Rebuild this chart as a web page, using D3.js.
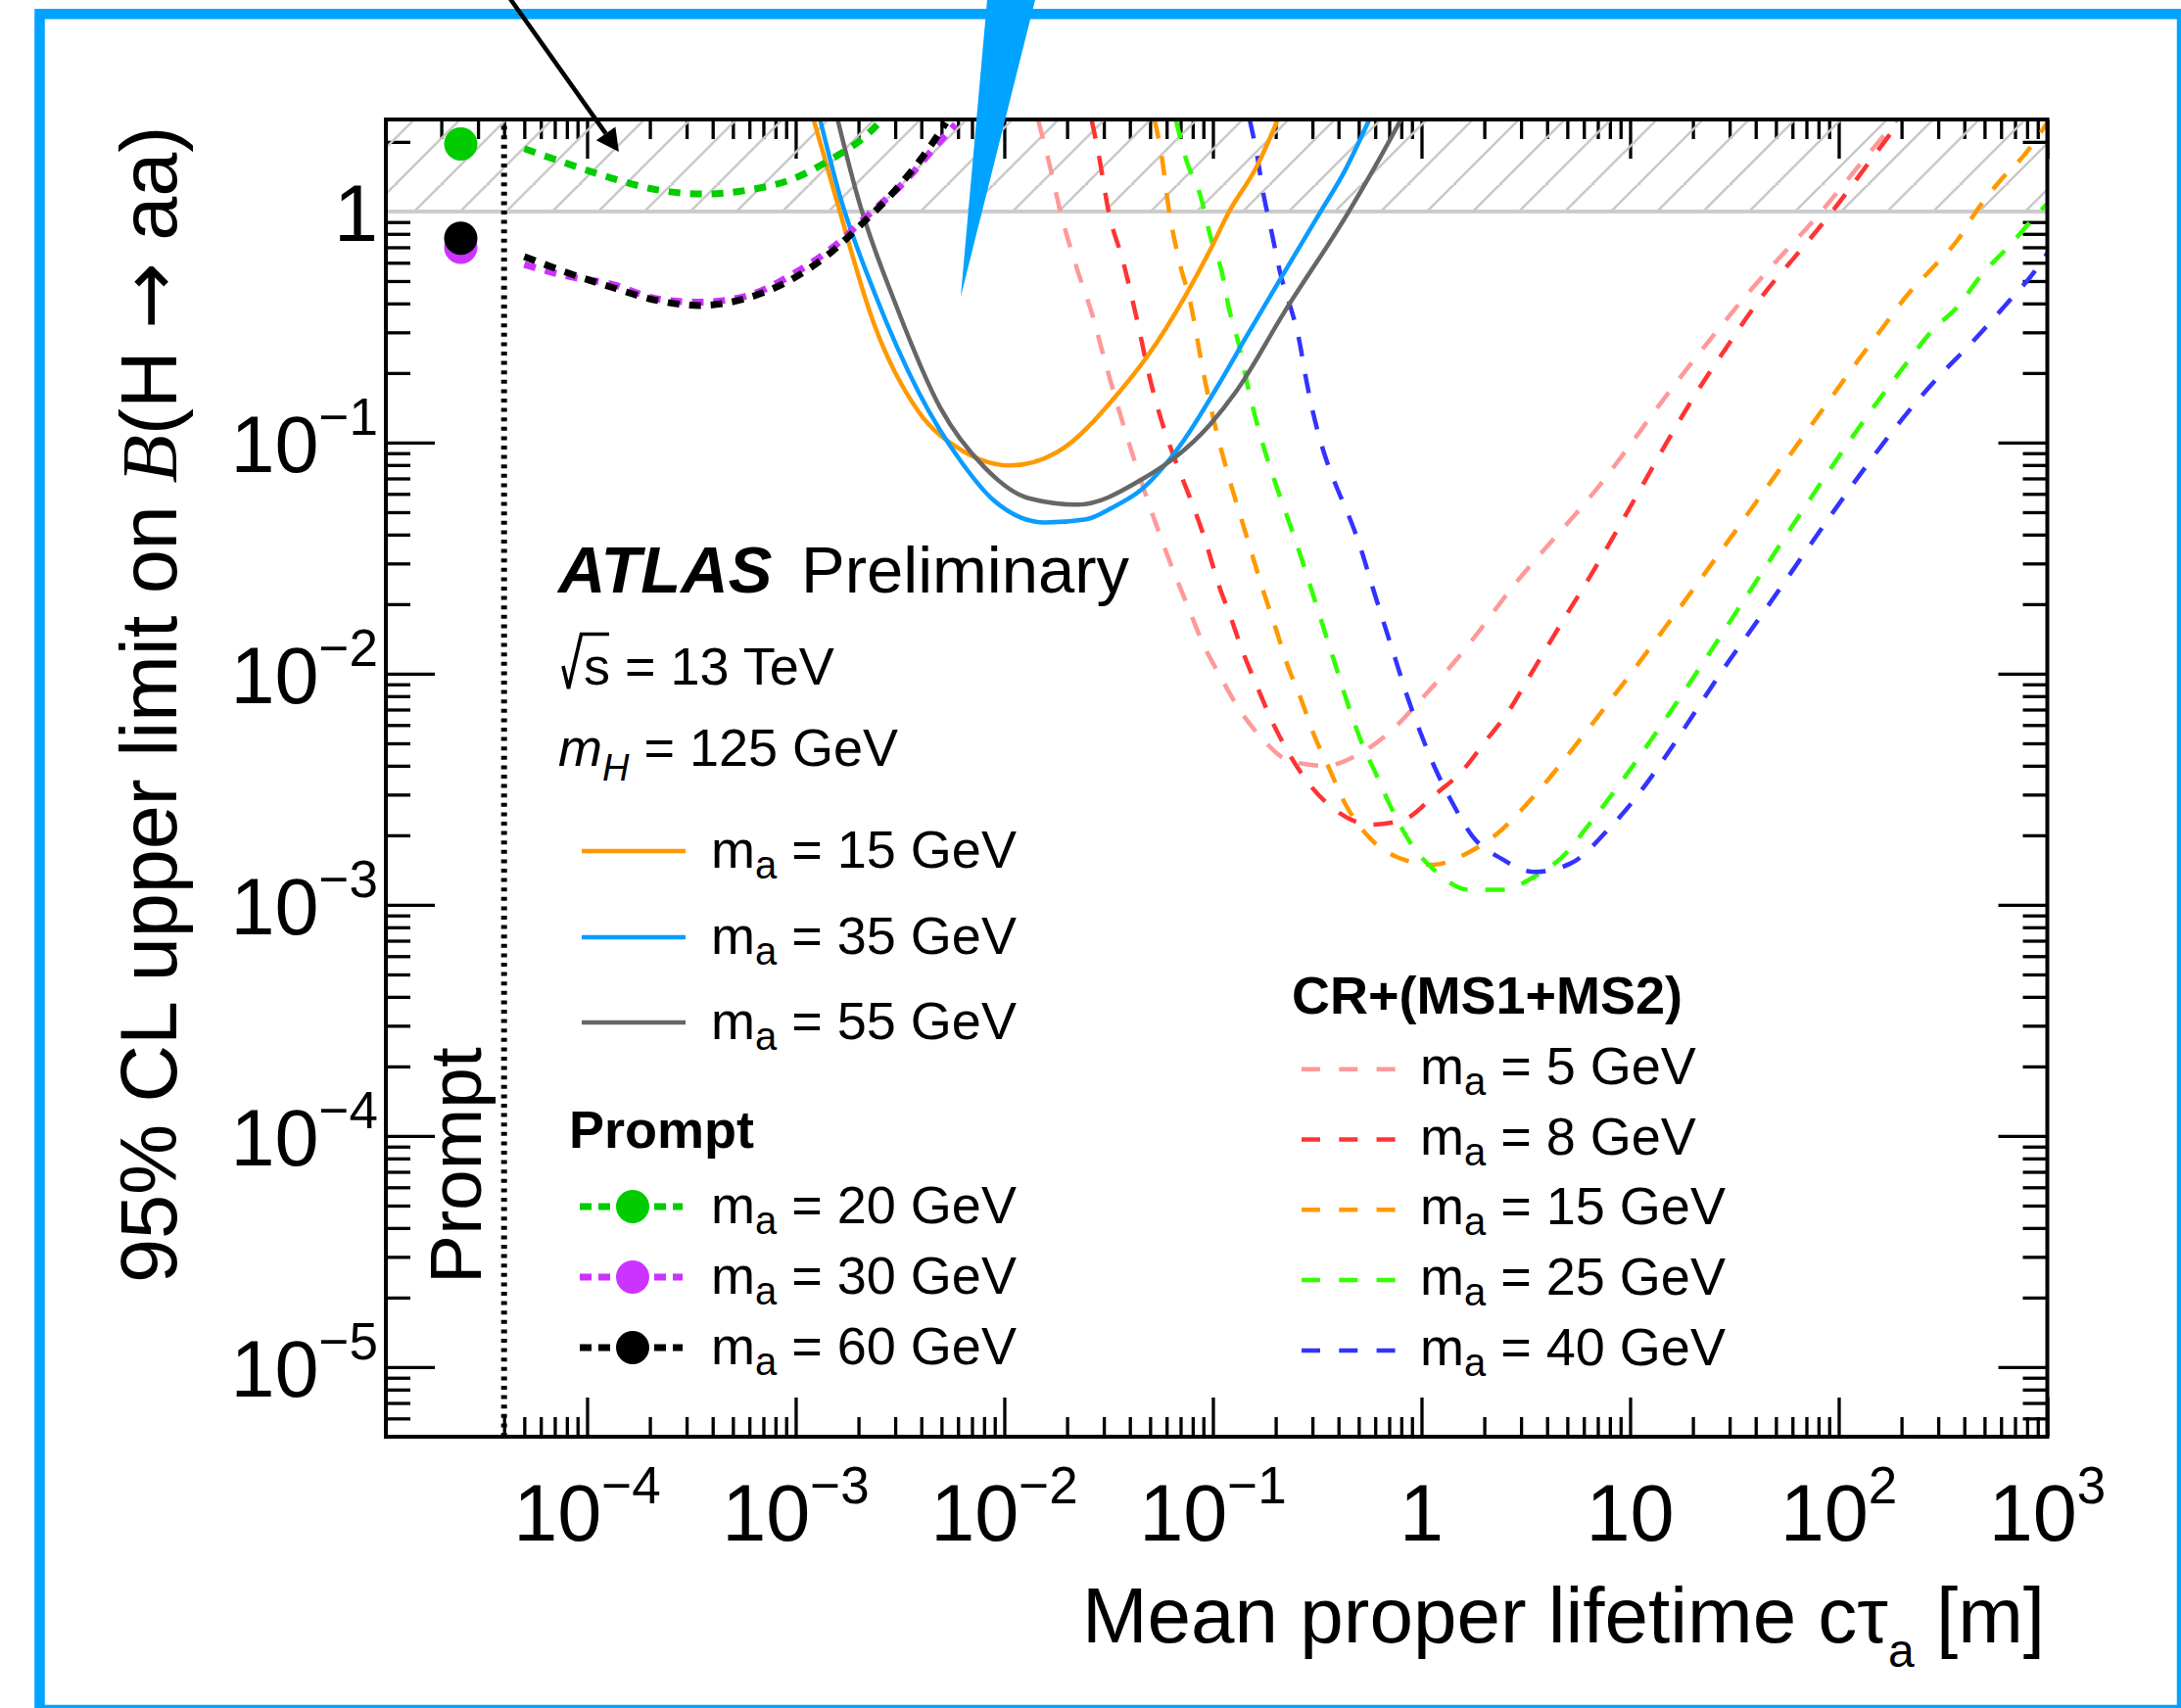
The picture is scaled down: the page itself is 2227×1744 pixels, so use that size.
<!DOCTYPE html>
<html>
<head>
<meta charset="utf-8">
<title>Upper limits on B(H→aa) versus mean proper lifetime</title>
<script src="https://cdn.jsdelivr.net/npm/d3@7/dist/d3.min.js"></script>
<style>
  html, body { margin: 0; padding: 0; background: #ffffff; }
  svg { display: block; }
  text { white-space: pre; }
</style>
</head>
<body>
<svg id="chart" width="2227" height="1744"></svg>
<script>
// ---------------- tick labels ----------------
const xMajorTicks = [1e-4, 1e-3, 1e-2, 1e-1, 1, 10, 100, 1000];
const xTickBase   = ["10", "10", "10", "10", "1", "10", "10", "10"];
const xTickExp    = ["\u22124", "\u22123", "\u22122", "\u22121", "", "", "2", "3"];
const yMajorTicks = [1, 1e-1, 1e-2, 1e-3, 1e-4, 1e-5];
const yTickBase   = ["1", "10", "10", "10", "10", "10"];
const yTickExp    = ["", "\u22121", "\u22122", "\u22123", "\u22124", "\u22125"];

// ---------------- prompt search ----------------
const promptTau  = 2.48e-5;   // where the prompt results are placed
const promptEdge = 4e-5;      // start of the displaced-lifetime axis
const promptMass  = [20, 30, 60];
const promptPoint = [1.96, 0.70, 0.766];

const prompt20Tau = [5.0e-5, 8.05e-5, 1.32e-4, 2.18e-4, 3.57e-4, 5.87e-4, 9.44e-4, 1.46e-3, 2.21e-3, 2.60e-3];
const prompt20Lim = [1.87, 1.61, 1.39, 1.24, 1.19, 1.236, 1.37, 1.67, 2.16, 2.5];
const prompt30Tau = [5.0e-5, 8.05e-5, 1.32e-4, 2.18e-4, 3.43e-4, 5.87e-4, 9.64e-4, 1.52e-3, 2.21e-3, 3.34e-3, 4.65e-3, 5.83e-3];
const prompt30Lim = [0.589, 0.525, 0.484, 0.418, 0.405, 0.432, 0.534, 0.704, 0.959, 1.35, 1.90, 2.38];
const prompt60Tau = [5.0e-5, 8.05e-5, 1.32e-4, 2.18e-4, 3.43e-4, 5.63e-4, 9.25e-4, 1.46e-3, 2.115e-3, 3.07e-3, 4.28e-3, 5.26e-3];
const prompt60Lim = [0.638, 0.543, 0.469, 0.4115, 0.392, 0.418, 0.500, 0.66, 0.898, 1.264, 1.84, 2.42];

// ---------------- solid-line search ----------------
const solidMass = [15, 35, 55];
const solid15Tau = [1.22e-3, 1.55e-3, 2.40e-3, 3.88e-3, 6.30e-3, 1.07e-2, 1.79e-2, 3.56e-2, 4.86e-2, 7.46e-2, 9.79e-2, 0.119, 0.162, 0.205];
const solid15Lim = [2.49, 1.166, 0.3175, 0.1362, 0.0922, 0.0796, 0.0908, 0.1656, 0.2368, 0.439, 0.693, 0.99, 1.56, 2.5];
const solid35Tau = [1.31e-3, 1.63e-3, 2.40e-3, 3.88e-3, 6.30e-3, 8.83e-3, 1.57e-2, 2.47e-2, 3.30e-2, 4.52e-2, 7.11e-2, 0.1061, 0.1452, 0.213, 0.3266, 0.429, 0.562];
const solid35Lim = [2.49, 1.166, 0.439, 0.1656, 0.0812, 0.0566, 0.0451, 0.0466, 0.0524, 0.0624, 0.0997, 0.1773, 0.2888, 0.519, 0.99, 1.50, 2.5];
const solid55Tau = [1.59e-3, 1.976e-3, 3.05e-3, 4.95e-3, 8.01e-3, 1.297e-2, 2.25e-2, 4.50e-2, 9.71e-2, 0.1287, 0.2213, 0.446, 0.586, 0.798];
const solid55Lim = [2.49, 1.166, 0.386, 0.1407, 0.0784, 0.0576, 0.0539, 0.0688, 0.12, 0.1656, 0.37, 0.99, 1.51, 2.5];

// ---------------- CR+(MS1+MS2) ----------------
const crMass = [5, 8, 15, 25, 40];
const cr5Tau = [1.452e-2, 1.643e-2, 1.862e-2, 2.237e-2, 2.633e-2, 3.095e-2, 6.48e-2, 7.62e-2, 8.95e-2, 0.1093, 0.1332, 0.1713, 0.2328, 0.346, 0.514, 0.724, 0.984, 1.63, 2.75, 7.11, 16.5, 38.8, 84.5, 135, 191];
const cr5Lim = [2.49, 1.613, 0.99, 0.561, 0.3614, 0.2113, 0.0277, 0.01936, 0.01353, 0.00962, 0.00706, 0.00527, 0.0042, 0.0040, 0.00455, 0.00572, 0.00766, 0.01289, 0.0239, 0.065, 0.18, 0.469, 1.024, 1.72, 2.5];
const cr8Tau = [2.62e-2, 2.83e-2, 3.17e-2, 3.71e-2, 4.33e-2, 4.87e-2, 9.45e-2, 0.1053, 0.1217, 0.138, 0.1623, 0.1909, 0.2328, 0.289, 0.3855, 0.573, 0.8215, 1.179, 1.571, 2.024, 2.603, 3.232, 4.011, 4.98, 5.97, 23.5, 28.5, 43.7, 62.0, 95.1, 146, 199];
const cr8Lim = [2.5, 1.778, 0.99, 0.608, 0.3386, 0.2079, 0.0348, 0.0251, 0.01756, 0.01269, 0.00887, 0.0063, 0.00448, 0.00334, 0.002576, 0.002226, 0.002337, 0.003033, 0.003805, 0.0051, 0.00684, 0.00947, 0.0131, 0.01813, 0.0236, 0.195, 0.2527, 0.439, 0.64, 1.024, 1.72, 2.5];
const cr15Tau = [5.25e-2, 5.69e-2, 6.15e-2, 6.90e-2, 7.76e-2, 9.06e-2, 0.1511, 0.1745, 0.2014, 0.2287, 0.2641, 0.3052, 0.359, 0.4296, 0.553, 0.765, 1.136, 1.689, 2.336, 3.119, 4.011, 5.354, 98.8, 124.8, 163.9, 215, 282, 376, 458, 600, 773, 1000];
const cr15Lim = [2.5, 1.72, 1.024, 0.608, 0.4115, 0.195, 0.0348, 0.0228, 0.01542, 0.01078, 0.00779, 0.00544, 0.003935, 0.00275, 0.001987, 0.001608, 0.001492, 0.001689, 0.002052, 0.002663, 0.003452, 0.004783, 0.171, 0.229, 0.3175, 0.439, 0.570, 0.764, 1.007, 1.372, 1.75, 2.42];
const cr25Tau = [6.64e-2, 7.46e-2, 8.72e-2, 9.79e-2, 0.1101, 0.119, 0.1338, 0.1444, 0.269, 0.3052, 0.346, 0.3926, 0.4455, 0.514, 0.605, 0.7112, 0.883, 1.179, 1.689, 2.421, 3.474, 4.98, 6.18, 206.9, 282, 370, 486, 663, 942, 1000];
const cr25Lim = [2.5, 1.667, 1.166, 0.764, 0.5515, 0.386, 0.261, 0.1886, 0.03052, 0.02135, 0.01492, 0.01044, 0.0073, 0.0051, 0.003686, 0.002663, 0.001862, 0.001389, 0.001162, 0.001162, 0.001323, 0.001689, 0.002156, 0.215, 0.307, 0.386, 0.534, 0.716, 1.024, 1.08];
const cr40Tau = [0.150, 0.1623, 0.1754, 0.1897, 0.213, 0.2304, 0.2589, 0.2796, 0.5238, 0.584, 0.6617, 0.751, 0.852, 0.984, 1.157, 1.41, 1.751, 2.421, 3.474, 5.16, 8.33, 33.2, 305, 433, 638, 871, 1000];
const cr40Lim = [2.5, 1.778, 1.166, 0.842, 0.517, 0.4115, 0.2786, 0.1886, 0.03256, 0.02353, 0.01645, 0.0115, 0.008043, 0.005623, 0.003935, 0.00275, 0.001987, 0.001582, 0.001389, 0.001507, 0.002245, 0.01305, 0.195, 0.27, 0.398, 0.5515, 0.66];

// ---------------- styles ----------------
const solidColors  = ["#ff9900", "#0a9cff", "#666666"];
const promptColors = ["#00cc00", "#cc33ff", "#000000"];
const crColors     = ["#ff9999", "#ff3333", "#ff9900", "#33ff00", "#3333ff"];
const frameBlue = "#00a3ff";
const SANS  = '"Liberation Sans", Arial, Helvetica, sans-serif';
const SERIF = '"Liberation Serif", "DejaVu Serif", serif';

// ---------------- layout ----------------
const W = 2227, H = 1744;
const plot = { left: 394, right: 2090.5, top: 122, bottom: 1467 };
const svg = d3.select("#chart").attr("width", W).attr("height", H)
  .style("font-family", SANS);

const x = d3.scaleLog().domain([1.085e-5, 1e3]).range([plot.left, plot.right]);
const y = d3.scaleLog().domain([5e-6, 2.5]).range([plot.bottom, plot.top]);

const defs = svg.append("defs");
defs.append("clipPath").attr("id", "plotClip")
  .append("rect")
  .attr("x", plot.left).attr("y", plot.top)
  .attr("width", plot.right - plot.left).attr("height", plot.bottom - plot.top);

// diagonal hatch for the excluded region B > 1
const hatchStep = 47;
const hatch = defs.append("pattern").attr("id", "hatch")
  .attr("patternUnits", "userSpaceOnUse")
  .attr("width", hatchStep).attr("height", hatchStep)
  .attr("x", (470 + y(1)) % hatchStep).attr("y", 0);
hatch.append("path")
  .attr("d", `M-4,4 L4,-4 M0,${hatchStep} L${hatchStep},0 M${hatchStep - 4},${hatchStep + 4} L${hatchStep + 4},${hatchStep - 4}`)
  .attr("stroke", "#c8c8c8").attr("stroke-width", 2.5).attr("fill", "none");

// page frame
svg.append("rect")
  .attr("x", 40.5).attr("y", 14.3).attr("width", 2187.5).attr("height", 1731.7)
  .attr("fill", "none").attr("stroke", frameBlue).attr("stroke-width", 10.5);

// ---------------- ticks ----------------
function logTicks(domain) {
  const out = [];
  for (let d = -7; d <= 4; d++) {
    for (let k = 1; k <= 9; k++) {
      const v = k * Math.pow(10, d);
      if (v > domain[0] * 1.0001 && v < domain[1] * 0.9999) out.push({ v, major: k === 1 });
    }
  }
  return out;
}
const xTicksAll = logTicks(x.domain()).concat([{ v: 1e3, major: true }]);
const yTicksAll = logTicks(y.domain());

function drawTicks(axisFn, scale, values, size, transform) {
  const g = svg.append("g").attr("transform", transform)
    .call(axisFn(scale).tickValues(values).tickSize(size).tickSizeOuter(0).tickFormat(""));
  g.select(".domain").remove();
  g.selectAll(".tick line").attr("stroke", "#000").attr("stroke-width", 3.3);
  g.selectAll(".tick text").remove();
  return g;
}
const bottomTicks = xTicksAll.filter(t => t.v >= promptEdge * 0.9999);
drawTicks(d3.axisBottom, x, bottomTicks.filter(t => t.major).map(t => t.v), -40, `translate(0,${plot.bottom})`);
drawTicks(d3.axisBottom, x, bottomTicks.filter(t => !t.major).map(t => t.v), -20, `translate(0,${plot.bottom})`);
drawTicks(d3.axisTop, x, xTicksAll.filter(t => t.major).map(t => t.v), -40, `translate(0,${plot.top})`);
drawTicks(d3.axisTop, x, xTicksAll.filter(t => !t.major).map(t => t.v), -20, `translate(0,${plot.top})`);
drawTicks(d3.axisLeft, y, yTicksAll.filter(t => t.major).map(t => t.v), -50, `translate(${plot.left},0)`);
drawTicks(d3.axisLeft, y, yTicksAll.filter(t => !t.major).map(t => t.v), -25, `translate(${plot.left},0)`);
drawTicks(d3.axisRight, y, yTicksAll.filter(t => t.major).map(t => t.v), -50, `translate(${plot.right},0)`);
drawTicks(d3.axisRight, y, yTicksAll.filter(t => !t.major).map(t => t.v), -25, `translate(${plot.right},0)`);

// ---------------- excluded band B > 1 ----------------
svg.append("rect")
  .attr("x", plot.left).attr("y", y(2.5))
  .attr("width", plot.right - plot.left).attr("height", y(1) - y(2.5))
  .attr("fill", "url(#hatch)");
svg.append("line")
  .attr("x1", plot.left).attr("x2", plot.right).attr("y1", y(1)).attr("y2", y(1))
  .attr("stroke", "#cccccc").attr("stroke-width", 4);

// boundary between the prompt point and the displaced axis
svg.append("line")
  .attr("x1", x(promptEdge)).attr("x2", x(promptEdge))
  .attr("y1", plot.bottom).attr("y2", plot.top)
  .attr("stroke", "#000").attr("stroke-width", 6).attr("stroke-dasharray", "4 5.6");

// ---------------- curves ----------------
const curveG = svg.append("g").attr("clip-path", "url(#plotClip)");
const line = d3.line().x(d => x(d[0])).y(d => y(d[1])).curve(d3.curveMonotoneX);

const crSeries = [
  [cr5Tau, cr5Lim], [cr8Tau, cr8Lim], [cr15Tau, cr15Lim], [cr25Tau, cr25Lim], [cr40Tau, cr40Lim]
];
crSeries.forEach((s, i) => {
  curveG.append("path").datum(d3.zip(s[0], s[1]))
    .attr("d", line).attr("fill", "none")
    .attr("stroke", crColors[i]).attr("stroke-width", 4.5)
    .attr("stroke-dasharray", "20 18");
});

const solidSeries = [[solid15Tau, solid15Lim], [solid35Tau, solid35Lim], [solid55Tau, solid55Lim]];
solidSeries.forEach((s, i) => {
  curveG.append("path").datum(d3.zip(s[0], s[1]))
    .attr("d", line).attr("fill", "none")
    .attr("stroke", solidColors[i]).attr("stroke-width", 4.5);
});

const promptSeries = [[prompt20Tau, prompt20Lim], [prompt30Tau, prompt30Lim], [prompt60Tau, prompt60Lim]];
promptSeries.forEach((s, i) => {
  curveG.append("path").datum(d3.zip(s[0], s[1]))
    .attr("d", line).attr("fill", "none")
    .attr("stroke", promptColors[i]).attr("stroke-width", 7)
    .attr("stroke-dasharray", "12 10");
});

// prompt results
svg.append("g").selectAll("circle")
  .data(promptPoint.map((v, i) => ({ v, c: promptColors[i] })))
  .join("circle")
  .attr("cx", x(promptTau)).attr("cy", d => y(d.v)).attr("r", 17)
  .attr("fill", d => d.c);

// plot frame
svg.append("rect")
  .attr("x", plot.left).attr("y", plot.top)
  .attr("width", plot.right - plot.left).attr("height", plot.bottom - plot.top)
  .attr("fill", "none").attr("stroke", "#000").attr("stroke-width", 4);

// ---------------- tick labels ----------------
const labelSize = 81, supSize = 53, supShift = 38;
function powerLabel(sel, base, exp) {
  sel.append("tspan").text(base);
  if (exp) sel.append("tspan").attr("font-size", supSize).attr("dy", -supShift).text(exp);
}
xMajorTicks.forEach((v, i) => {
  const t = svg.append("text")
    .attr("x", x(v)).attr("y", plot.bottom + 106)
    .attr("text-anchor", "middle").attr("font-size", labelSize);
  powerLabel(t, xTickBase[i], xTickExp[i]);
});
yMajorTicks.forEach((v, i) => {
  const t = svg.append("text")
    .attr("x", plot.left - 8).attr("y", y(v) + 30)
    .attr("text-anchor", "end").attr("font-size", labelSize);
  powerLabel(t, yTickBase[i], yTickExp[i]);
});

// ---------------- axis titles ----------------
const xTitle = svg.append("text")
  .attr("x", 2088).attr("y", 1677).attr("text-anchor", "end").attr("font-size", 80);
xTitle.append("tspan").text("Mean proper lifetime c\u03c4");
xTitle.append("tspan").attr("font-size", 48).attr("dy", 25).text("a");
xTitle.append("tspan").attr("dy", -25).text(" [m]");

const yTitle = svg.append("text")
  .attr("transform", "translate(180,1310) rotate(-90)")
  .attr("text-anchor", "start").attr("font-size", 81);
yTitle.append("tspan").text("95% CL upper limit on ");
yTitle.append("tspan").attr("font-family", SERIF).attr("font-style", "italic").text("B");
yTitle.append("tspan").text("(H ");
yTitle.append("tspan").attr("font-family", '"DejaVu Sans", sans-serif').text("\u2192");
yTitle.append("tspan").text(" aa)");

svg.append("text")
  .attr("transform", `translate(491,1190) rotate(-90)`)
  .attr("text-anchor", "middle").attr("font-size", 75).text("Prompt");

// ---------------- ATLAS label ----------------
svg.append("text").attr("x", 570).attr("y", 605)
  .attr("font-size", 67).attr("font-weight", "bold").attr("font-style", "italic").text("ATLAS");
svg.append("text").attr("x", 818).attr("y", 605)
  .attr("font-size", 67).text("Preliminary");

// sqrt(s) = 13 TeV
const sx = 575, sb = 699;
svg.append("path")
  .attr("d", `M${sx},${sb - 19} L${sx + 5.5},${sb + 4} L${sx + 18.5},${sb - 51.5} L${sx + 47},${sb - 51.5}`)
  .attr("fill", "none").attr("stroke", "#000").attr("stroke-width", 3.6)
  .attr("stroke-linejoin", "miter");
svg.append("text").attr("x", sx + 21).attr("y", sb).attr("font-size", 54).text("s = 13 TeV");

const mh = svg.append("text").attr("x", 570).attr("y", 782).attr("font-size", 54);
mh.append("tspan").attr("font-style", "italic").text("m");
mh.append("tspan").attr("font-style", "italic").attr("font-size", 38).attr("dy", 15).text("H");
mh.append("tspan").attr("dy", -15).text(" = 125 GeV");

// ---------------- legends ----------------
const legendFont = 54;
function massText(g, tx, ty, mass) {
  const t = g.append("text").attr("x", tx).attr("y", ty).attr("font-size", legendFont);
  t.append("tspan").text("m");
  t.append("tspan").attr("font-size", 40).attr("dy", 11).text("a");
  t.append("tspan").attr("dy", -11).text(` = ${mass} GeV`);
}

// solid-line entries
const legSolid = svg.append("g");
const solidRows = [869, 957, 1044];
solidMass.forEach((m, i) => {
  legSolid.append("line")
    .attr("x1", 594).attr("x2", 700).attr("y1", solidRows[i]).attr("y2", solidRows[i])
    .attr("stroke", solidColors[i]).attr("stroke-width", 4.5);
  massText(legSolid, 726, solidRows[i] + 17, m);
});

// prompt entries
const legPrompt = svg.append("g");
legPrompt.append("text").attr("x", 581).attr("y", 1172)
  .attr("font-size", legendFont).attr("font-weight", "bold").text("Prompt");
const promptRows = [1232, 1304, 1376];
promptMass.forEach((m, i) => {
  legPrompt.append("line")
    .attr("x1", 592).attr("x2", 697).attr("y1", promptRows[i]).attr("y2", promptRows[i])
    .attr("stroke", promptColors[i]).attr("stroke-width", 7).attr("stroke-dasharray", "12 7");
  legPrompt.append("circle").attr("cx", 646).attr("cy", promptRows[i]).attr("r", 17)
    .attr("fill", promptColors[i]);
  massText(legPrompt, 726, promptRows[i] + 17, m);
});

// CR+(MS1+MS2) entries
const legCR = svg.append("g");
legCR.append("text").attr("x", 1319).attr("y", 1035)
  .attr("font-size", legendFont).attr("font-weight", "bold").text("CR+(MS1+MS2)");
crMass.forEach((m, i) => {
  const ry = 1091.7 + i * 71.8;
  legCR.append("line")
    .attr("x1", 1329).attr("x2", 1426).attr("y1", ry).attr("y2", ry)
    .attr("stroke", crColors[i]).attr("stroke-width", 4.5).attr("stroke-dasharray", "19 19.3");
  massText(legCR, 1450, ry + 15, m);
});

// ---------------- annotations ----------------
// arrow pointing at the prompt 20 GeV curve inside the excluded band
const arrowTip = [x(1.42e-4), y(1.81)];
const arrowDir = [0.579, 0.816];
const arrowLen = 200, headLen = 23, headHalf = 12;
const base = [arrowTip[0] - arrowDir[0] * headLen, arrowTip[1] - arrowDir[1] * headLen];
const perp = [-arrowDir[1], arrowDir[0]];
svg.append("line")
  .attr("x1", arrowTip[0] - arrowDir[0] * arrowLen).attr("y1", arrowTip[1] - arrowDir[1] * arrowLen)
  .attr("x2", base[0]).attr("y2", base[1])
  .attr("stroke", "#000").attr("stroke-width", 4.5);
svg.append("path")
  .attr("d", `M${arrowTip[0]},${arrowTip[1]} L${base[0] + perp[0] * headHalf},${base[1] + perp[1] * headHalf} L${base[0] - perp[0] * headHalf},${base[1] - perp[1] * headHalf} Z`)
  .attr("fill", "#000");

// blue pointer wedge
const wedgeTip = [x(6.18e-3), y(0.427)];
svg.append("path")
  .attr("d", `M${wedgeTip[0]},${wedgeTip[1]} L${wedgeTip[0] + 27},0 L${wedgeTip[0] + 76},0 Z`)
  .attr("fill", frameBlue);
</script>
</body>
</html>
